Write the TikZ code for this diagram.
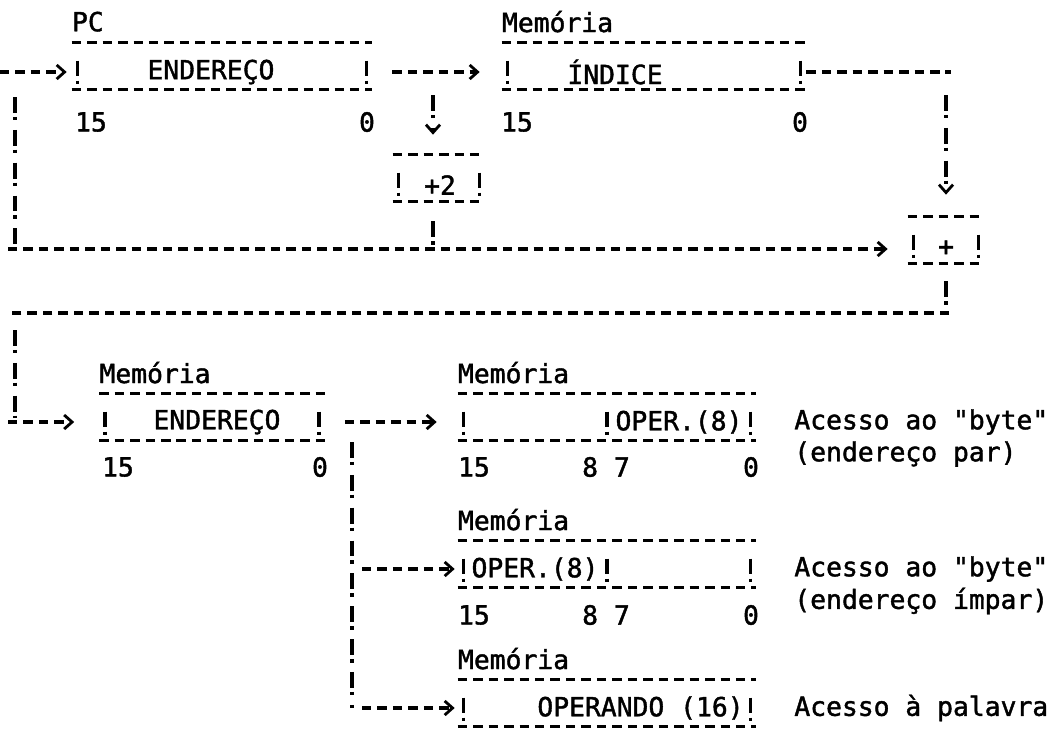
\documentclass[tikz,border=0pt]{standalone}
\usepackage{fontspec}
\setmainfont{DejaVu Sans Mono}[FakeBold=1.5,Ligatures=TeXOff]
\usetikzlibrary{arrows.meta}

\tikzset{
  rule/.style={line width=2pt, dash pattern=on 5.4pt off 3.4pt},
  bang/.style={line width=2pt, dash pattern=on 9pt off 2.3pt on 2pt off 5.4pt},
  side/.style={line width=2pt, dash pattern=on 9pt off 2.3pt on 2pt off 20pt},
  chev/.style={-{Straight Barb[length=4.5pt,width=8pt,line width=1.6pt]}},
  reg/.style={minimum width=#1, minimum height=0.92cm, inner sep=0pt},
  txt/.style={inner sep=0pt},
}

\begin{document}
\begin{tikzpicture}[x=0.02cm,y=-0.02cm,font=\fontsize{15}{17}\selectfont]
\useasboundingbox (0,0) rectangle (1061,728);

\node[reg=6cm] (pc) at (222,66) {};
\node[reg=6.08cm] (idx) at (654,66) {};
\node[reg=1.84cm] (two) at (439,178) {};
\node[reg=1.52cm] (sum) at (946,240) {};
\node[reg=4.5cm] (ea) at (212,417) {};
\node[reg=5.96cm] (byA) at (607,417) {};
\node[reg=5.96cm] (byB) at (607,564) {};
\node[reg=5.96cm] (wd) at (607,703) {};

\foreach \b in {pc,idx,two,sum,ea,byA,byB,wd} {
  \draw[rule] (\b.north west) -- (\b.north east);
  \draw[rule] (\b.south west) -- (\b.south east);
  \draw[side] ([xshift=0.12cm,yshift=-0.36cm]\b.north west) -- ([xshift=0.12cm]\b.south west);
  \draw[side] ([xshift=-0.12cm,yshift=-0.36cm]\b.north east) -- ([xshift=-0.12cm]\b.south east);
}
\draw[side] ([yshift=-0.36cm]byA.north) -- (byA.south);
\draw[side] ([yshift=-0.36cm]byB.north) -- (byB.south);

% register names
\node[txt,anchor=west] (pcname) at ([yshift=0.42cm]pc.north west) {PC};
\foreach \b in {idx,ea,byA,byB,wd}
  \node[txt,anchor=west] at ([yshift=0.42cm]\b.north west) {Memória};

% fields
\node[txt] (pcfield) at (211,72) {ENDEREÇO};
\node[txt] (idxfield) at (615,72) {ÍNDICE};
\node[txt] (twofield) at (440,185) {+2};
\node[txt] (sumfield) at (946,248) {+};
\node[txt] (eafield) at (217,422) {ENDEREÇO};
\node[txt] (lofield) at (679,422) {OPER.(8)};
\node[txt] (hifield) at (535,569) {OPER.(8)};
\node[txt,anchor=east] (wdfield) at (744,708) {OPERANDO (16)};

% bit numbers
\node[txt] at (91,122) {15};
\node[txt] at (367,122) {0};
\node[txt] at (517,122) {15};
\node[txt] at (800,122) {0};
\node[txt] at (118,467) {15};
\node[txt] at (320,467) {0};
\node[txt] at (474,467) {15};
\node[txt] at (606,467) {8 7};
\node[txt] at (751,467) {0};
\node[txt] at (474,615) {15};
\node[txt] at (606,615) {8 7};
\node[txt] at (751,615) {0};

% notes
\node[txt,anchor=west] at (794,422) {Acesso ao "byte"};
\node[txt,anchor=west] at (794,454) {(endereço par)};
\node[txt,anchor=west] at (794,569) {Acesso ao "byte"};
\node[txt,anchor=west] at (794,601) {(endereço ímpar)};
\node[txt,anchor=west] at (794,708) {Acesso à palavra};

\coordinate (inlet) at (0,72);
\coordinate (fork) at (433,72);
\coordinate (turn) at (951,72);
\coordinate (j1) at (433,249);
\coordinate (l1w) at (8,249);
\coordinate (l2e) at (949,313);
\coordinate (l2w) at (8,313);
\coordinate (eain) at (8,422);
\coordinate (drop) at (352,422);

\draw[rule,chev,shorten >=0.1cm] (inlet) -- (inlet -| pc.west);
\draw[rule,chev,shorten <=0.4cm,shorten >=0.44cm] (inlet -| pc.east) -- (inlet -| idx.west);
\draw[bang,chev,shorten <=0.46cm,shorten >=0.4cm] (fork) -- (fork |- two.north);
\draw[bang,shorten <=0.4cm] (fork |- two.south) -- (j1);
\draw[rule,chev,shorten >=0.4cm] (l1w) -- (l1w -| sum.west);
\draw[bang] (15,97) -- (15,246);

\draw[rule] (inlet -| idx.east) -- (turn);
\draw[bang,chev,shorten <=0.46cm,shorten >=0.44cm] (turn -| sum) -- (sum.north);
\draw[bang,shorten <=0.36cm] (sum.south) -- (sum.south |- l2e);
\draw[rule] (l2e) -- (l2w);
\draw[bang] (15,330) -- (15,418);

\draw[rule,chev,shorten >=0.5cm] (eain) -- (eain -| ea.west);
\draw[rule,chev,shorten <=0.4cm,shorten >=0.42cm] (eain -| ea.east) -- (eain -| byA.west);
\draw[bang] ([yshift=-0.4cm]drop) -- (drop |- wdfield);
\draw[rule,chev,shorten <=0.2cm,shorten >=0.06cm] (drop |- hifield) -- (hifield -| byB.west);
\draw[rule,chev,shorten <=0.2cm,shorten >=0.06cm] (drop |- wdfield) -- (wdfield -| wd.west);
\end{tikzpicture}
\end{document}
